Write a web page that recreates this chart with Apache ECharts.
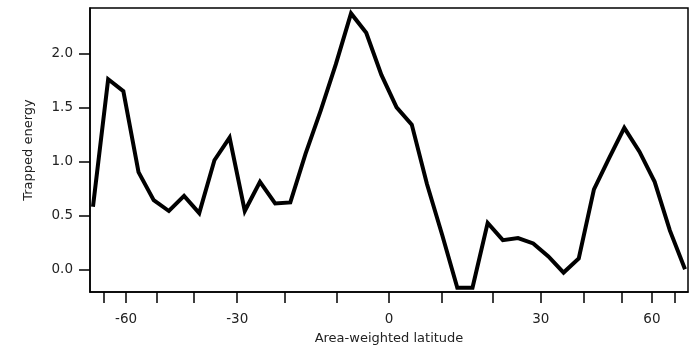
<!DOCTYPE html>
<html>
<head>
<meta charset="utf-8">
<script src="https://cdn.jsdelivr.net/npm/echarts@6/dist/echarts.min.js"></script>
<style>
  html, body { margin: 0; padding: 0; background: #fff; }
  #chart { width: 689px; height: 346px; }
</style>
</head>
<body>
<div id="chart"></div>
<script>
// x positions are sin(latitude) (area-weighted)
const sinLat = [
  -0.975, -0.925, -0.875, -0.825, -0.775, -0.725, -0.675, -0.625, -0.575, -0.525,
  -0.475, -0.425, -0.375, -0.325, -0.275, -0.225, -0.175, -0.125, -0.075, -0.025,
  0.025, 0.075, 0.125, 0.175, 0.225, 0.275, 0.325, 0.375, 0.425, 0.475,
  0.525, 0.575, 0.625, 0.675, 0.725, 0.775, 0.825, 0.875, 0.925, 0.975
];
const trapped = [
  0.58, 1.76, 1.65, 0.90, 0.64, 0.54, 0.68, 0.52, 1.01, 1.22,
  0.54, 0.81, 0.61, 0.62, 1.07, 1.47, 1.90, 2.37, 2.19, 1.80,
  1.50, 1.34, 0.79, 0.32, -0.17, -0.17, 0.43, 0.27, 0.29, 0.24,
  0.12, -0.03, 0.10, 0.74, 1.03, 1.31, 1.09, 0.81, 0.36, 0.00
];
const tickLats = [-70, -60, -50, -40, -30, -20, -10, 0, 10, 20, 30, 40, 50, 60, 70];
const labelLats = [-60, -30, 0, 30, 60];
const yTicks = [0, 0.5, 1.0, 1.5, 2.0];

const toSin = d => Math.sin(d * Math.PI / 180);
const toLat = s => Math.round(Math.asin(s) * 180 / Math.PI);

const chart = echarts.init(document.getElementById('chart'));
const textStyle = { color: '#222', fontFamily: 'DejaVu Sans', fontSize: 13 };
const labelStyle = { color: '#222', fontFamily: 'DejaVu Sans', fontSize: 13.5 };

chart.setOption({
  animation: false,
  grid: {
    left: 90, right: 1, top: 8, bottom: 54,
    containLabel: false,
    outerBoundsMode: 'none',
    show: true, borderColor: '#000', borderWidth: 1.5
  },
  xAxis: {
    type: 'value',
    min: toSin(-80),
    max: toSin(80),
    name: 'Area-weighted latitude',
    nameLocation: 'middle',
    nameGap: 40,
    nameTextStyle: textStyle,
    splitLine: { show: false },
    axisLine: { onZero: false, lineStyle: { color: '#000', width: 1.5 } },
    axisTick: {
      length: 11,
      lineStyle: { color: '#000', width: 1.5 },
      customValues: tickLats.map(toSin)
    },
    axisLabel: {
      ...labelStyle,
      margin: 20,
      customValues: labelLats.map(toSin),
      formatter: v => String(toLat(v))
    }
  },
  yAxis: {
    type: 'value',
    min: -0.21,
    max: 2.42,
    name: 'Trapped energy',
    nameLocation: 'middle',
    nameGap: 55,
    nameTextStyle: textStyle,
    splitLine: { show: false },
    axisLine: { show: true, onZero: false, lineStyle: { color: '#000', width: 1.5 } },
    axisTick: {
      show: true,
      length: 11,
      lineStyle: { color: '#000', width: 1.5 },
      customValues: yTicks
    },
    axisLabel: {
      ...labelStyle,
      margin: 17,
      customValues: yTicks,
      formatter: v => v.toFixed(1)
    }
  },
  series: [{
    type: 'line',
    data: sinLat.map((x, i) => [x, trapped[i]]),
    showSymbol: false,
    lineStyle: { color: '#000', width: 4, join: 'miter' }
  }]
});
</script>
</body>
</html>
